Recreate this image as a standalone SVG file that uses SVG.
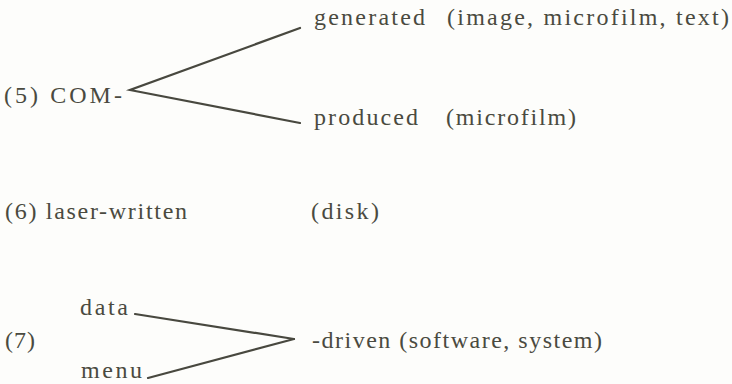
<svg xmlns="http://www.w3.org/2000/svg" width="732" height="384" viewBox="0 0 732 384">
  <style>
    .t { font-family: "Liberation Serif", "Times New Roman", serif; font-size: 24px; fill: #4a4a40; }
    .c { stroke: #48483f; stroke-width: 2.2; stroke-linecap: round; fill: none; }
  </style>
  <rect width="732" height="384" fill="#fdfdfb"/>

  <!-- connectors -->
  <g id="connectors">
    <polyline class="c" points="300,28 130,90 300,123"/>
    <line class="c" x1="135" y1="314" x2="294" y2="339"/>
    <line class="c" x1="148" y1="378" x2="294" y2="339"/>
  </g>

  <!-- (5) COM- -->
  <g id="com">
    <text class="t" x="4" y="103" textLength="118" lengthAdjust="spacing">(5) COM-</text>
  </g>
  <g id="generated">
    <text class="t" x="314" y="25" textLength="111" lengthAdjust="spacing">generated</text>
    <text class="t" x="447" y="25" textLength="282" lengthAdjust="spacing">(image, microfilm, text)</text>
  </g>
  <g id="produced">
    <text class="t" x="314" y="125" textLength="104" lengthAdjust="spacing">produced</text>
    <text class="t" x="446" y="125" letter-spacing="1.8">(microfilm)</text>
  </g>

  <!-- (6) laser-written -->
  <g id="laser">
    <text class="t" x="5" y="219" textLength="182" lengthAdjust="spacing">(6) laser-written</text>
    <text class="t" x="311" y="219" textLength="68" lengthAdjust="spacing">(disk)</text>
  </g>

  <!-- (7) -driven -->
  <g id="num7">
    <text class="t" x="5" y="348" textLength="30" lengthAdjust="spacing">(7)</text>
  </g>
  <g id="data">
    <text class="t" x="80" y="315" textLength="48" lengthAdjust="spacing">data</text>
  </g>
  <g id="menu">
    <text class="t" x="81" y="378" textLength="61" lengthAdjust="spacing">menu</text>
  </g>
  <g id="driven">
    <text class="t" x="312" y="348" textLength="290" lengthAdjust="spacing">-driven (software, system)</text>
  </g>
</svg>
